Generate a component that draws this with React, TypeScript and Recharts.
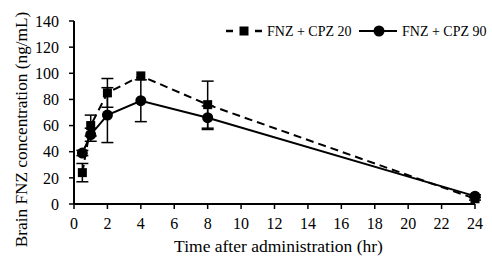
import React from 'react';
import { ComposedChart, Line, XAxis, YAxis, ErrorBar, Legend } from 'recharts';

const times = [0.5, 1, 2, 4, 8, 24];
const cpz20 = [24, 60, 85, 98, 76, 4];
const cpz20Err = [7, 8, 11, 0, 18, 1];
const cpz90 = [39, 53, 68, 79, 66, 6];
const cpz90Err = [2, 5, 21, 16, 9, 1];
const xTicks = [0, 2, 4, 6, 8, 10, 12, 14, 16, 18, 20, 22, 24];
const yTicks = [0, 20, 40, 60, 80, 100, 120, 140];
const seriesNames = ['FNZ + CPZ 20', 'FNZ + CPZ 90'];

const data = times.map((t, i) => ({
  t,
  a: cpz20[i],
  aErr: cpz20Err[i],
  b: cpz90[i],
  bErr: cpz90Err[i],
}));

const FONT = '"Liberation Serif", "Times New Roman", serif';

const SquareDot = (props: any) => {
  const { cx, cy, index } = props;
  if (cx == null || cy == null) return <g key={`s${index}`} />;
  return <rect key={`s${index}`} x={cx - 4.5} y={cy - 4.5} width={9} height={9} fill="#000" />;
};

const CircleDot = (props: any) => {
  const { cx, cy, index } = props;
  if (cx == null || cy == null) return <g key={`c${index}`} />;
  return <circle key={`c${index}`} cx={cx} cy={cy} r={5.5} fill="#000" />;
};

const LegendContent = () => (
  <svg width={272} height={24} style={{ display: 'block' }}>
    <g fontFamily={FONT} fontSize={14} fill="#000">
      <line x1={6} x2={13} y1={12} y2={12} stroke="#000" strokeWidth={2.5} />
      <rect x={19.5} y={7.5} width={9} height={9} fill="#000" />
      <line x1={35} x2={42} y1={12} y2={12} stroke="#000" strokeWidth={2.5} />
      <text x={47} y={17}>{seriesNames[0]}</text>
      <line x1={139} x2={177} y1={12} y2={12} stroke="#000" strokeWidth={2} />
      <circle cx={159} cy={12} r={5.5} fill="#000" />
      <text x={182} y={17}>{seriesNames[1]}</text>
    </g>
  </svg>
);

const YLabel = (props: any) => {
  const vb = props.viewBox || { x: 0, y: 0, width: 0, height: 0 };
  const cx = vb.x + 9;
  const cy = vb.y + vb.height / 2 + 17;
  return (
    <text
      x={cx}
      y={cy}
      transform={`rotate(-90, ${cx}, ${cy})`}
      textAnchor="middle"
      dominantBaseline="central"
      fontFamily={FONT}
      fontSize={17.3}
      fill="#000"
    >
      Brain FNZ concentration (ng/mL)
    </text>
  );
};

const XLabel = (props: any) => {
  const vb = props.viewBox || { x: 0, y: 0, width: 0, height: 0 };
  const cx = vb.x + vb.width / 2 + 4;
  const cy = vb.y + 48;
  return (
    <text x={cx} y={cy} textAnchor="middle" fontFamily={FONT} fontSize={17.5} fill="#000">
      Time after administration (hr)
    </text>
  );
};

export default function App() {
  return (
    <div style={{ position: 'absolute', left: 0, top: 0, width: 492, height: 262, background: '#fff' }}>
      <ComposedChart
        width={492}
        height={262}
        data={data}
        margin={{ top: 21, right: 17, bottom: 4, left: 12 }}
      >
        <XAxis
          dataKey="t"
          type="number"
          domain={[0, 24]}
          ticks={xTicks}
          interval={0}
          height={54}
          tickSize={5}
          tickMargin={9}
          axisLine={{ stroke: '#000', strokeWidth: 2 }}
          tickLine={{ stroke: '#000', strokeWidth: 1.5 }}
          tick={{ fill: '#000', fontFamily: FONT, fontSize: 16 }}
          label={<XLabel />}
        />
        <YAxis
          type="number"
          domain={[0, 140]}
          ticks={yTicks}
          interval={0}
          width={62}
          tickSize={5}
          tickMargin={10}
          axisLine={{ stroke: '#000', strokeWidth: 2 }}
          tickLine={{ stroke: '#000', strokeWidth: 1.5 }}
          tick={{ fill: '#000', fontFamily: FONT, fontSize: 16 }}
          label={<YLabel />}
        />
        <Legend
          layout="horizontal"
          verticalAlign="middle"
          align="center"
          content={<LegendContent />}
          wrapperStyle={{ position: 'absolute', left: 220, top: 19, width: 272, height: 24 }}
        />
        <Line
          dataKey="a"
          name={seriesNames[0]}
          stroke="#000"
          strokeWidth={2}
          strokeDasharray="8 5"
          dot={SquareDot}
          activeDot={false}
          isAnimationActive={false}
        >
          <ErrorBar dataKey="aErr" width={6} stroke="#000" strokeWidth={1.5} />
        </Line>
        <Line
          dataKey="b"
          name={seriesNames[1]}
          stroke="#000"
          strokeWidth={2}
          dot={CircleDot}
          activeDot={false}
          isAnimationActive={false}
        >
          <ErrorBar dataKey="bErr" width={6} stroke="#000" strokeWidth={1.5} />
        </Line>
      </ComposedChart>
    </div>
  );
}
